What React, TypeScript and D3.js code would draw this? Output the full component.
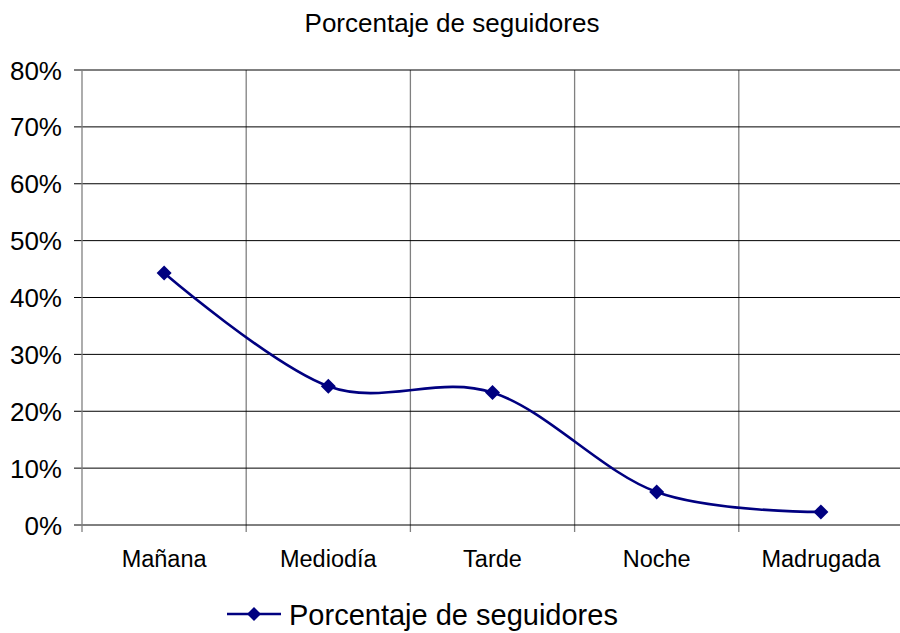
import React from 'react';
import * as d3 from 'd3';

const categories = ['Mañana', 'Mediodía', 'Tarde', 'Noche', 'Madrugada'];
const values = [0.443, 0.244, 0.233, 0.058, 0.023];
const yTicks = [0, 0.1, 0.2, 0.3, 0.4, 0.5, 0.6, 0.7, 0.8];
const seriesName = 'Porcentaje de seguidores';
const title = 'Porcentaje de seguidores';

const W = 900;
const H = 633;
const left = 82;
const right = 903;
const top = 70;
const bottom = 525;
const navy = '#000080';
const font = '"Liberation Sans", Arial, sans-serif';

const diamond = (cx: number, cy: number, r: number) =>
  `M${cx},${cy - r}L${cx + r},${cy}L${cx},${cy + r}L${cx - r},${cy}Z`;

export default function App() {
  const x = d3.scaleBand<string>().domain(categories).range([left, right]);
  const y = d3.scaleLinear().domain([0, 0.8]).range([bottom, top]);
  const fmt = d3.format('.0%');

  const pts: [number, number][] = categories.map((c, i) => [
    (x(c) as number) + x.bandwidth() / 2,
    y(values[i]),
  ]);
  const line = d3.line().curve(d3.curveCardinal.tension(0))(pts) as string;

  const bounds = categories.map((c) => x(c) as number);

  return (
    <svg
      width={W}
      height={H}
      style={{ position: 'absolute', left: 0, top: 0, background: '#fff' }}
      fontFamily={font}
    >
      <text x={452} y={32} textAnchor="middle" fontSize={26} fill="#000">
        {title}
      </text>

      {/* vertical gridlines */}
      {bounds.slice(1).map((b, i) => (
        <line key={'v' + i} x1={b} x2={b} y1={top} y2={bottom + 7} stroke="#808080" strokeWidth={1.3} />
      ))}
      <line x1={right} x2={right} y1={top} y2={bottom} stroke="#808080" strokeWidth={1.3} />

      {/* horizontal gridlines */}
      {yTicks.map((t) => (
        <g key={t}>
          <line x1={left - 8} x2={right} y1={y(t)} y2={y(t)} stroke="#000" strokeWidth={1} />
          <text x={62} y={y(t) + 9.5} textAnchor="end" fontSize={26} fill="#000">
            {fmt(t)}
          </text>
        </g>
      ))}

      {/* y axis */}
      <line x1={left} x2={left} y1={top} y2={bottom + 7} stroke="#808080" strokeWidth={1.3} />

      {categories.map((c) => (
        <text
          key={c}
          x={(x(c) as number) + x.bandwidth() / 2}
          y={567}
          textAnchor="middle"
          fontSize={23.5}
          fill="#000"
        >
          {c}
        </text>
      ))}

      <path d={line} fill="none" stroke={navy} strokeWidth={2.6} />
      {pts.map(([px, py], i) => (
        <path key={i} d={diamond(px, py, 7.5)} fill={navy} />
      ))}

      {/* legend */}
      <line x1={227} x2={281} y1={614} y2={614} stroke={navy} strokeWidth={2.6} />
      <path d={diamond(254, 614, 7)} fill={navy} />
      <text x={289} y={625} fontSize={29} fill="#000">
        {seriesName}
      </text>
    </svg>
  );
}
